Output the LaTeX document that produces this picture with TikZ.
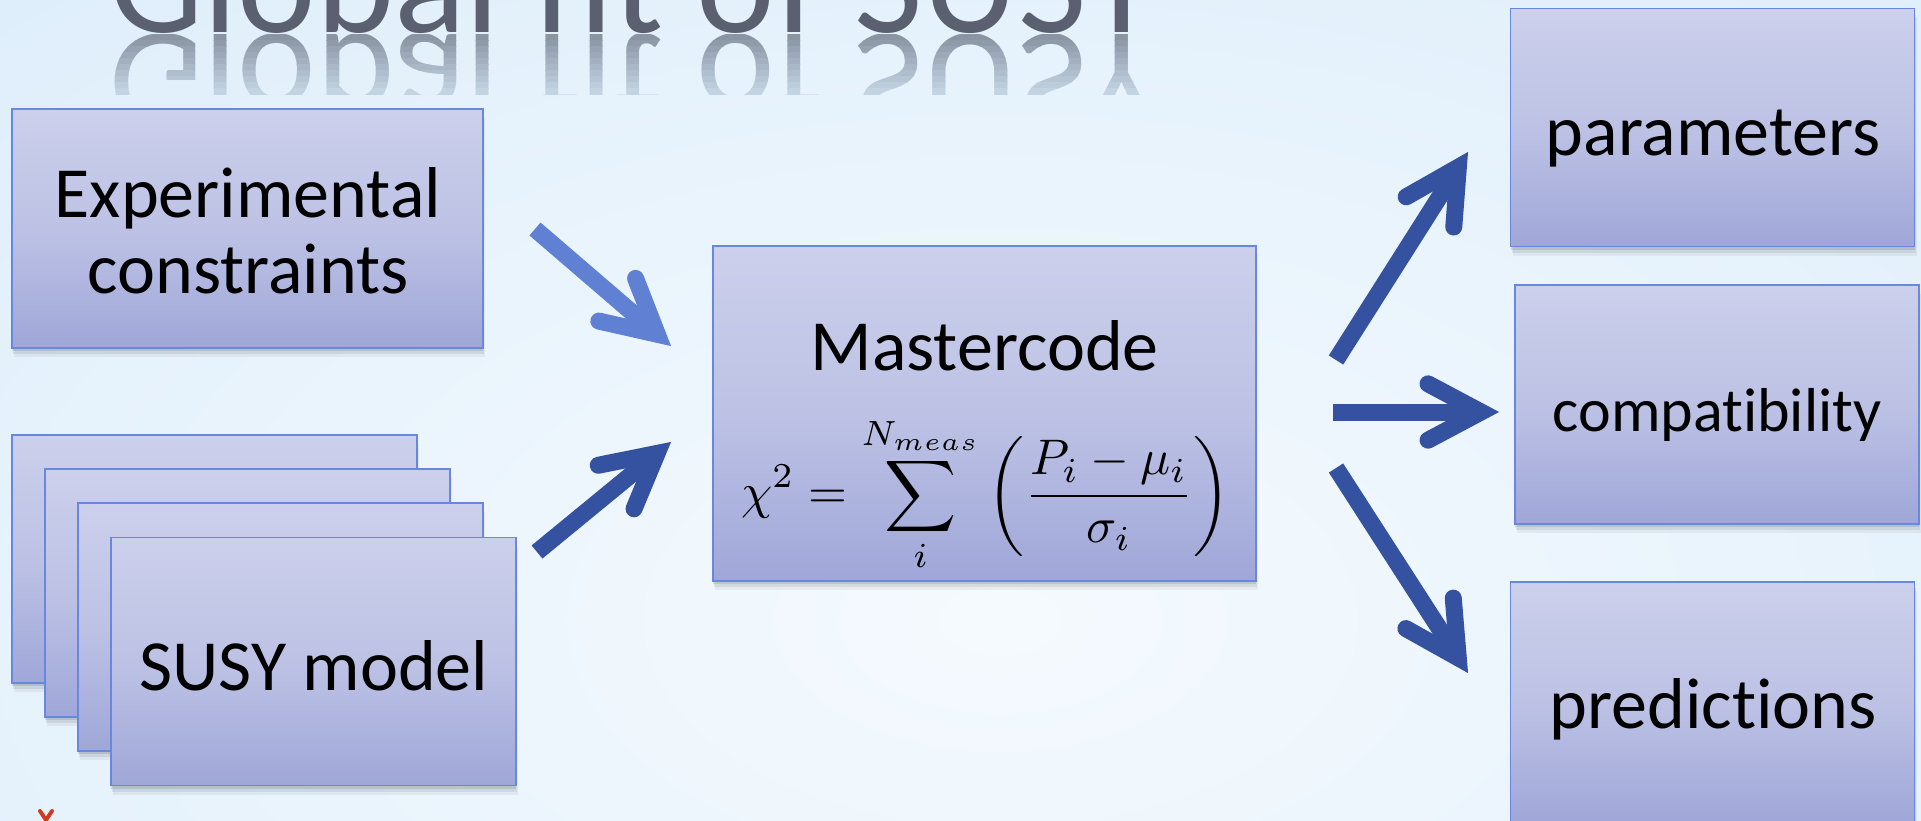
\documentclass[tikz,border=0pt]{standalone}
\usepackage[no-math]{fontspec}
\setmainfont{Carlito}[Ligatures={NoCommon}]
\usepackage{graphicx}
\usetikzlibrary{calc,shadows}
\definecolor{bgin}{HTML}{F5FAFE}
\definecolor{bgout}{HTML}{CDE5F8}
\definecolor{bgtop}{HTML}{D8ECFA}
\definecolor{boxtop}{HTML}{CCD0EC}
\definecolor{boxmid}{HTML}{BDC2E5}
\definecolor{boxbot}{HTML}{9FA7D8}
\definecolor{boxline}{HTML}{6888DF}
\definecolor{arrlight}{HTML}{6080D4}
\definecolor{arrdark}{HTML}{3552A0}
\definecolor{titlec}{HTML}{5A6070}
\definecolor{reflc}{HTML}{8A94A3}
\definecolor{markred}{HTML}{D13A1E}
\newcommand\fatarrow[3]{%
  \draw[#1, line width=17pt, line cap=butt] (#2) -- ($(#3)!18pt!(#2)$);
  \draw[#1, line width=17pt, line cap=round, line join=miter, miter limit=10]
    ($(#3)!18pt!(#2)!60pt!28:(#2)$) -- ($(#3)!18pt!(#2)$) -- ($(#3)!18pt!(#2)!60pt!-28:(#2)$);
}
\begin{document}
\begin{tikzpicture}[x=1pt,y=-1pt,
  panel/.style={draw=boxline, line width=1.8pt, top color=boxtop, bottom color=boxbot, middle color=boxmid,
    inner sep=0pt,
    drop shadow={shadow xshift=0pt,shadow yshift=-3pt,opacity=0.10,fill=black},
    drop shadow={shadow xshift=1pt,shadow yshift=-6pt,opacity=0.07,fill=black},
    drop shadow={shadow xshift=2pt,shadow yshift=-9pt,opacity=0.05,fill=black}},
  susy/.style={panel, minimum width=405pt, minimum height=248pt},
  lbl/.style={inner sep=0pt, anchor=base, font=\fontsize{72}{80}\selectfont},
  titlefont/.style={inner sep=0pt, anchor=base, font=\fontsize{149}{154}\selectfont}
]
\useasboundingbox (0,0) rectangle (1921,820);
\clip (0,0) rectangle (1921,820);
% background
\shade[inner color=bgin, outer color=bgout] (-1600,-880) rectangle (3600,2120);

% title and its reflection
\node[titlefont, text=titlec] (title) at (634,32) {Global fit of SUSY};
\foreach \i in {0,...,9} {
  \pgfmathtruncatemacro\p{100-8*\i}
  \begin{scope}
    \clip (0,34+6*\i) rectangle (1921,40+6*\i);
    \node[titlefont, text=reflc!\p!bgtop] (refl\i) at (634,34) {\scalebox{1}[-1]{Global fit of SUSY}};
  \end{scope}
}

% left boxes
\node[panel, minimum width=471pt, minimum height=239pt] (exp) at (247.5,228.5) {};
\node[lbl] (expa) at (248,217) {Experimental};
\node[lbl] (expb) at (248,293) {constraints};

\node[susy] (s1) at (214.5,559) {};
\node[susy] (s2) at (247.5,593) {};
\node[susy] (s3) at (280.5,627) {};
\node[susy] (s4) at (313.5,661.5) {};
\node[lbl] (s4t) at (314,690) {SUSY model};

% central box
\node[panel, minimum width=543pt, minimum height=335pt] (mc) at (984.5,413.5) {};
\node[lbl] (mct) at (984.5,370) {Mastercode};
\node[inner sep=0pt, anchor=base] (mcf) at (985.5,508.5)
  {\scalebox{5.0}{$\displaystyle \chi^2 = \sum_{i}^{N_{meas}} \left(\frac{P_i-\mu_i}{\sigma_i}\right)$}};

% right boxes
\node[panel, minimum width=404pt, minimum height=238pt] (par) at (1712.5,127.5) {};
\node[lbl] (part) at (1713,155) {parameters};
\node[panel, minimum width=404pt, minimum height=239pt] (com) at (1717,404.5) {};
\node[lbl, font=\fontsize{62}{70}\selectfont] (comt) at (1717,431) {compatibility};
\node[panel, minimum width=404pt, minimum height=240pt] (pre) at (1712.5,702) {};
\node[lbl] (pret) at (1713,728) {predictions};

% arrows
\coordinate (a1s) at (535,229);  \coordinate (a1t) at (671,346);
\coordinate (a2s) at (537,552);  \coordinate (a2t) at (671,442);
\coordinate (a3s) at (1336,360); \coordinate (a3t) at (1468,152);
\coordinate (a4s) at (1333,412); \coordinate (a4t) at (1499,412);
\coordinate (a5s) at (1336,468); \coordinate (a5t) at (1468,673);
\fatarrow{arrlight}{a1s}{a1t}
\fatarrow{arrdark}{a2s}{a2t}
\fatarrow{arrdark}{a3s}{a3t}
\fatarrow{arrdark}{a4s}{a4t}
\fatarrow{arrdark}{a5s}{a5t}

% red mark at bottom left
\coordinate (rm1) at (40,811); \coordinate (rm2) at (46,820); \coordinate (rm3) at (52,811);
\draw[markred, line width=4pt, line cap=round] (rm1) -- (rm2) -- (rm3);
\end{tikzpicture}
\end{document}
